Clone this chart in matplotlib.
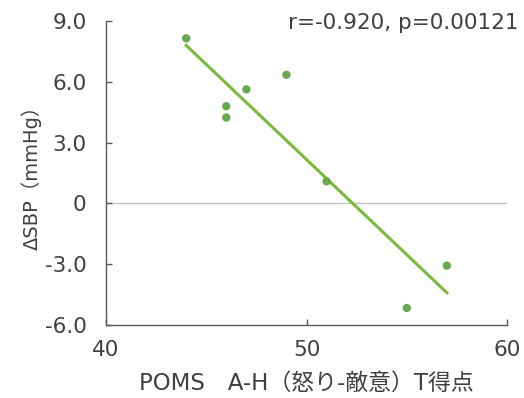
import numpy as np
import matplotlib
matplotlib.use('Agg')
import matplotlib.pyplot as plt

plt.rcParams['font.family'] = ['DejaVu Sans', 'Noto Sans CJK JP']

# POMS A-H T score vs change in systolic blood pressure
poms_ah = [44, 46, 46, 47, 49, 51, 55, 57]
delta_sbp = [8.15, 4.8, 4.24, 5.63, 6.35, 1.09, -5.16, -3.07]
y_ticks = [-6.0, -3.0, 0.0, 3.0, 6.0, 9.0]
y_tick_labels = ['-6.0', '-3.0', '0', '3.0', '6.0', '9.0']
x_ticks = [40, 50, 60]
stats_text = 'r=-0.920, p=0.00121'

x = np.array(poms_ah, dtype=float)
y = np.array(delta_sbp, dtype=float)
slope, intercept = np.polyfit(x, y, 1)
x_fit = np.array([x.min(), x.max()])
y_fit = slope * x_fit + intercept

text_color = '#404040'

fig = plt.figure(figsize=(5.24, 3.98), dpi=100)
ax = fig.add_axes([0.2023, 0.1834, 0.7653, 0.7636])

ax.axhline(0, color='#bfbfbf', linewidth=0.9, zorder=1)
ax.plot(x_fit, y_fit, color='#7ab93c', linewidth=2.2, zorder=2)
ax.scatter(x, y, s=36, color='#6aa84f', edgecolors='none', zorder=3)

ax.set_xlim(40, 60)
ax.set_ylim(-6.0, 9.0)
ax.set_xticks(x_ticks)
ax.set_yticks(y_ticks)
ax.set_yticklabels(y_tick_labels)

for side in ('top', 'right'):
    ax.spines[side].set_visible(False)
for side in ('left', 'bottom'):
    ax.spines[side].set_color('#595959')
    ax.spines[side].set_linewidth(1.0)

ax.tick_params(axis='both', direction='in', length=4, width=1.0,
               color='#595959', labelsize=15.5, labelcolor=text_color)
ax.tick_params(axis='y', pad=14)
ax.tick_params(axis='x', pad=11)

ax.set_xlabel('POMS\u3000A-H（怒り-敵意）T得点', fontsize=16.5, color=text_color, labelpad=8)
ax.set_ylabel('ΔSBP（mmHg）', fontsize=14, color=text_color, labelpad=2)

fig.text(0.99, 0.968, stats_text, ha='right', va='top', fontsize=15.5, color=text_color)

fig.savefig('out.png', dpi=100)
